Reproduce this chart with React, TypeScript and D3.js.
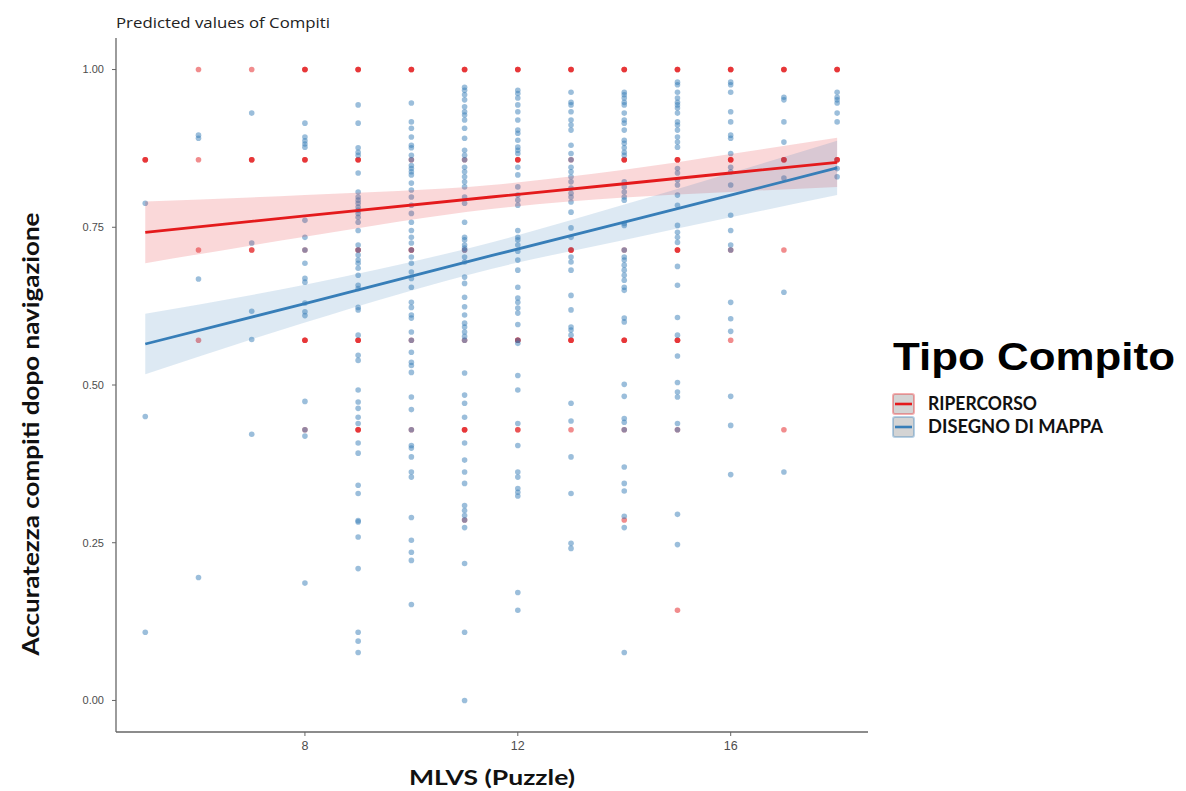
import React from "react";
import * as d3 from "d3";

const W = 1186;
const H = 791;

const yTicks = [0, 0.25, 0.5, 0.75, 1];
const xTicks = [8, 12, 16];
const groups = ["RIPERCORSO", "DISEGNO DI MAPPA"];
const colors = ["#E41A1C", "#377EB8"];

// Observed points, RIPERCORSO (repeated values = overlapping observations)
const ripercorsoPoints: [number, number[]][] = [
  [5, [0.857, 0.857, 0.857]],
  [6, [1.0, 0.857, 0.714, 0.571]],
  [7, [1.0, 0.857, 0.857, 0.857, 0.714, 0.714]],
  [8, [1.0, 1.0, 1.0, 0.857, 0.857, 0.857, 0.714, 0.571, 0.571, 0.571, 0.429]],
  [9, [1.0, 1.0, 1.0, 0.857, 0.857, 0.857, 0.714, 0.714, 0.571, 0.571, 0.571, 0.429, 0.429, 0.429]],
  [10, [1.0, 1.0, 1.0, 0.857, 0.714, 0.714, 0.571, 0.429]],
  [11, [1.0, 1.0, 1.0, 0.857, 0.714, 0.571, 0.429, 0.429, 0.429, 0.286]],
  [12, [1.0, 1.0, 1.0, 0.857, 0.857, 0.857, 0.571, 0.571, 0.571, 0.429, 0.429]],
  [13, [1.0, 1.0, 1.0, 0.857, 0.714, 0.714, 0.714, 0.571, 0.571, 0.571, 0.429]],
  [14, [1.0, 1.0, 1.0, 0.857, 0.857, 0.857, 0.714, 0.571, 0.571, 0.571, 0.429, 0.286]],
  [15, [1.0, 1.0, 1.0, 0.857, 0.857, 0.857, 0.714, 0.714, 0.714, 0.571, 0.571, 0.571, 0.429, 0.143]],
  [16, [1.0, 1.0, 1.0, 0.857, 0.857, 0.857, 0.714, 0.571]],
  [17, [1.0, 1.0, 1.0, 0.857, 0.857, 0.857, 0.714, 0.429]],
  [18, [1.0, 1.0, 1.0, 0.857, 0.857, 0.857]],
];

// Observed points, DISEGNO DI MAPPA
const disegnoPoints: [number, number[]][] = [
  [5, [0.788, 0.45, 0.108]],
  [6, [0.896, 0.891, 0.668, 0.195]],
  [7, [0.931, 0.725, 0.617, 0.572, 0.422]],
  [8, [0.915, 0.893, 0.887, 0.882, 0.877, 0.761, 0.734, 0.714, 0.693, 0.669, 0.663, 0.63, 0.616, 0.61, 0.474, 0.429, 0.419, 0.186]],
  [9, [0.944, 0.915, 0.876, 0.869, 0.864, 0.836, 0.806, 0.798, 0.793, 0.788, 0.782, 0.777, 0.772, 0.766, 0.758, 0.745, 0.722, 0.714, 0.706, 0.698, 0.693, 0.685, 0.674, 0.658, 0.653, 0.623, 0.619, 0.579, 0.547, 0.539, 0.492, 0.473, 0.463, 0.449, 0.439, 0.408, 0.392, 0.341, 0.328, 0.285, 0.283, 0.259, 0.209, 0.108, 0.094, 0.076]],
  [10, [0.947, 0.917, 0.907, 0.893, 0.88, 0.876, 0.864, 0.857, 0.848, 0.843, 0.838, 0.833, 0.82, 0.809, 0.798, 0.785, 0.772, 0.758, 0.745, 0.734, 0.725, 0.714, 0.703, 0.693, 0.679, 0.669, 0.655, 0.631, 0.623, 0.611, 0.606, 0.584, 0.571, 0.552, 0.536, 0.531, 0.52, 0.481, 0.461, 0.429, 0.404, 0.4, 0.386, 0.362, 0.354, 0.29, 0.254, 0.235, 0.222, 0.152]],
  [11, [0.972, 0.967, 0.96, 0.952, 0.941, 0.933, 0.928, 0.92, 0.907, 0.891, 0.872, 0.864, 0.857, 0.845, 0.838, 0.83, 0.822, 0.814, 0.798, 0.788, 0.758, 0.734, 0.73, 0.722, 0.717, 0.714, 0.703, 0.695, 0.671, 0.661, 0.639, 0.624, 0.611, 0.598, 0.592, 0.584, 0.577, 0.571, 0.519, 0.484, 0.471, 0.449, 0.408, 0.381, 0.362, 0.344, 0.309, 0.301, 0.293, 0.286, 0.274, 0.217, 0.108, 0.0]],
  [12, [0.967, 0.962, 0.955, 0.944, 0.933, 0.92, 0.904, 0.899, 0.888, 0.877, 0.872, 0.867, 0.845, 0.833, 0.814, 0.801, 0.793, 0.785, 0.745, 0.734, 0.73, 0.722, 0.712, 0.698, 0.682, 0.655, 0.638, 0.631, 0.622, 0.614, 0.596, 0.571, 0.566, 0.515, 0.492, 0.439, 0.404, 0.362, 0.354, 0.336, 0.33, 0.324, 0.171, 0.143]],
  [13, [0.964, 0.948, 0.944, 0.933, 0.92, 0.912, 0.904, 0.88, 0.867, 0.857, 0.845, 0.838, 0.83, 0.822, 0.812, 0.804, 0.798, 0.79, 0.774, 0.749, 0.734, 0.703, 0.695, 0.682, 0.642, 0.619, 0.592, 0.587, 0.579, 0.471, 0.443, 0.386, 0.328, 0.249, 0.241]],
  [14, [0.964, 0.96, 0.955, 0.948, 0.944, 0.931, 0.92, 0.915, 0.904, 0.888, 0.883, 0.876, 0.869, 0.864, 0.822, 0.814, 0.806, 0.798, 0.793, 0.756, 0.753, 0.714, 0.703, 0.698, 0.69, 0.682, 0.674, 0.666, 0.655, 0.65, 0.606, 0.6, 0.501, 0.482, 0.447, 0.441, 0.429, 0.37, 0.344, 0.332, 0.292, 0.274, 0.076]],
  [15, [0.98, 0.976, 0.964, 0.955, 0.948, 0.944, 0.939, 0.931, 0.917, 0.912, 0.904, 0.893, 0.885, 0.877, 0.843, 0.836, 0.825, 0.817, 0.801, 0.785, 0.753, 0.742, 0.734, 0.726, 0.688, 0.658, 0.607, 0.579, 0.546, 0.504, 0.489, 0.481, 0.439, 0.429, 0.295, 0.247]],
  [16, [0.98, 0.976, 0.964, 0.933, 0.917, 0.896, 0.891, 0.867, 0.845, 0.838, 0.817, 0.769, 0.745, 0.722, 0.714, 0.631, 0.605, 0.585, 0.482, 0.436, 0.358]],
  [17, [0.956, 0.952, 0.917, 0.885, 0.828, 0.647, 0.362]],
  [18, [0.964, 0.956, 0.952, 0.947, 0.931, 0.917, 0.843, 0.83]],
];

// Predicted values and confidence band
const fitX = [5, 8, 11.5, 14, 16, 18];
const ripercorsoFit = [0.742, 0.768, 0.798, 0.819, 0.836, 0.853];
const ripercorsoLow = [0.693, 0.735, 0.779, 0.797, 0.806, 0.814];
const ripercorsoHigh = [0.791, 0.801, 0.817, 0.841, 0.866, 0.892];
const disegnoFit = [0.565, 0.629, 0.705, 0.758, 0.801, 0.844];
const disegnoLow = [0.517, 0.599, 0.684, 0.73, 0.766, 0.801];
const disegnoHigh = [0.613, 0.659, 0.726, 0.786, 0.836, 0.887];

export default function App() {
  const x = d3.scaleLinear().domain([4.45, 18.58]).range([116, 868]);
  const y = d3.scaleLinear().domain([-0.05, 1.05]).range([732, 38]);

  const area = d3
    .area<number>()
    .x((_, i) => x(fitX[i]))
    .curve(d3.curveMonotoneX);
  const line = d3
    .line<number>()
    .x((_, i) => x(fitX[i]))
    .y((d) => y(d));

  const bandPath = (low: number[], high: number[]) =>
    area.y0((_, i) => y(low[i])).y1((_, i) => y(high[i]))(low) || "";

  const pts = (data: [number, number[]][], color: string, key: string) =>
    data.flatMap(([xv, ys]) =>
      ys.map((yv, j) => (
        <circle
          key={`${key}-${xv}-${j}`}
          cx={x(xv)}
          cy={y(yv)}
          r={2.8}
          fill={color}
          fillOpacity={0.5}
        />
      ))
    );

  const sans = "'Liberation Sans', Arial, sans-serif";
  const bold = "Lato, 'Open Sans', sans-serif";

  return (
    <svg
      width={W}
      height={H}
      style={{ position: "absolute", left: 0, top: 0, background: "#fff" }}
    >
      <rect x={0} y={0} width={W} height={H} fill="#fff" />
      {/* title */}
      <text x={116} y={28} fontFamily="'Open Sans', sans-serif" fontSize={14} fill="#222" textLength={214} lengthAdjust="spacingAndGlyphs">
        Predicted values of Compiti
      </text>

      {/* points */}
      {pts(ripercorsoPoints, colors[0], "r")}
      {pts(disegnoPoints, colors[1], "b")}

      {/* bands */}
      <path d={bandPath(ripercorsoLow, ripercorsoHigh)} fill={colors[0]} fillOpacity={0.17} />
      <path d={bandPath(disegnoLow, disegnoHigh)} fill={colors[1]} fillOpacity={0.17} />

      {/* fit lines */}
      <path d={line(ripercorsoFit) || ""} fill="none" stroke={colors[0]} strokeWidth={2.8} />
      <path d={line(disegnoFit) || ""} fill="none" stroke={colors[1]} strokeWidth={2.8} />

      {/* axes */}
      <line x1={116} x2={116} y1={38} y2={732} stroke="#666" strokeWidth={1.3} />
      <line x1={116} x2={868} y1={732} y2={732} stroke="#666" strokeWidth={1.3} />
      {yTicks.map((t) => (
        <g key={`yt${t}`}>
          <line x1={112} x2={116} y1={y(t)} y2={y(t)} stroke="#666" strokeWidth={1} />
          <text x={104} y={y(t)} dy="0.35em" textAnchor="end" fontFamily={sans} fontSize={11} fill="#4d4d4d">
            {d3.format(".2f")(t)}
          </text>
        </g>
      ))}
      {xTicks.map((t) => (
        <g key={`xt${t}`}>
          <line x1={x(t)} x2={x(t)} y1={732} y2={736} stroke="#666" strokeWidth={1} />
          <text x={x(t)} y={750} textAnchor="middle" fontFamily={sans} fontSize={12.5} fill="#4d4d4d">
            {t}
          </text>
        </g>
      ))}

      {/* axis titles */}
      <text x={492} y={785} textAnchor="middle" fontFamily={bold} fontWeight={700} fontSize={21} fill="#111" textLength={166} lengthAdjust="spacingAndGlyphs">
        MLVS (Puzzle)
      </text>
      <text
        transform={`translate(39,434) rotate(-90)`}
        textAnchor="middle"
        fontFamily={bold}
        fontWeight={700}
        fontSize={23.5}
        fill="#111"
        textLength={443}
        lengthAdjust="spacingAndGlyphs"
      >
        Accuratezza compiti dopo navigazione
      </text>

      {/* legend */}
      <text x={893} y={370} fontFamily={sans} fontWeight={700} fontSize={39} fill="#000" textLength={282} lengthAdjust="spacingAndGlyphs">
        Tipo Compito
      </text>
      {groups.map((g, i) => {
        const ky = 394 + i * 23;
        const labels = [109, 175];
        return (
          <g key={g}>
            <rect x={893} y={ky} width={21} height={20} rx={2} fill="#d4d4d4" stroke={colors[i]} strokeOpacity={0.35} strokeWidth={2} />
            <line x1={895} x2={912} y1={ky + 10} y2={ky + 10} stroke={colors[i]} strokeWidth={2.6} />
            <text x={928} y={ky + 16} fontFamily={bold} fontWeight={700} fontSize={18} fill="#111" textLength={labels[i]} lengthAdjust="spacingAndGlyphs">
              {g}
            </text>
          </g>
        );
      })}
    </svg>
  );
}
